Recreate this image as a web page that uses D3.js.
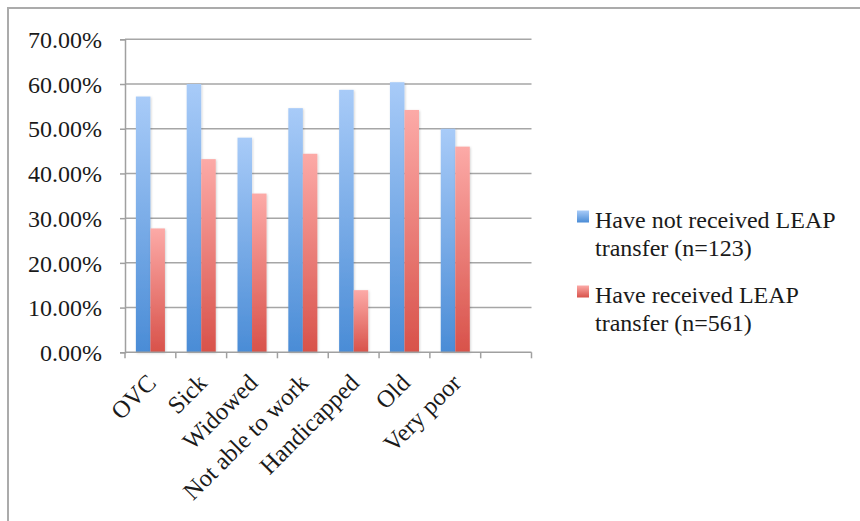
<!DOCTYPE html>
<html>
<head>
<meta charset="utf-8">
<script src="https://cdn.jsdelivr.net/npm/d3@7/dist/d3.min.js"></script>
<style>
  html, body { margin: 0; padding: 0; background: #fff; }
  svg { display: block; }
  text { font-family: "Liberation Serif", "DejaVu Serif", serif; fill: #1a1a1a; }
</style>
</head>
<body>
<svg id="chart" width="860" height="521"></svg>
<script>
// Category slots (the last slot is left empty, as in the original sheet)
const categories = ["OVC", "Sick", "Widowed", "Not able to work", "Handicapped", "Old", "Very poor", ""];
// Share of households per group, in percent
const notReceived = [57.2, 60.0, 48.0, 54.6, 58.7, 60.4, 50.0];
const received    = [27.7, 43.2, 35.5, 44.4, 13.9, 54.2, 46.0];
const legendLines = [["Have not received LEAP", "transfer (n=123)"], ["Have received LEAP", "transfer (n=561)"]];
const yTicks = [0, 10, 20, 30, 40, 50, 60, 70];

const svg = d3.select("#chart");
const defs = svg.append("defs");

// Vertical gradients: light at the top, saturated at the base
const grads = [
  { id: "gBlue", top: "#a8cbf8", bottom: "#4a8cd6" },
  { id: "gRed",  top: "#fcaaa7", bottom: "#d8524a" }
];
grads.forEach(g => {
  const lg = defs.append("linearGradient").attr("id", g.id)
    .attr("x1", 0).attr("y1", 0).attr("x2", 0).attr("y2", 1);
  lg.append("stop").attr("offset", "0%").attr("stop-color", g.top);
  lg.append("stop").attr("offset", "100%").attr("stop-color", g.bottom);
});
const shadow = defs.append("filter").attr("id", "soft").attr("x", "-30%").attr("y", "-10%").attr("width", "160%").attr("height", "120%");
shadow.append("feDropShadow").attr("dx", 0.8).attr("dy", 0.8).attr("stdDeviation", 0.9)
  .attr("flood-color", "#000").attr("flood-opacity", 0.18);

// Frame (only top and left edges fall inside the view)
svg.append("rect").attr("x", 8).attr("y", 8).attr("width", 900).attr("height", 600)
  .attr("fill", "none").attr("stroke", "#ababab").attr("stroke-width", 2);

const plot = { left: 125, right: 531.5, top: 39.3, bottom: 352.3 };

const x = d3.scaleBand().domain(categories.map((c, i) => i))
  .range([plot.left, plot.right]).paddingInner(0).paddingOuter(0);
const y = d3.scaleLinear().domain([0, 70]).range([plot.bottom, plot.top]);

// Horizontal gridlines
svg.append("g").selectAll("line").data(yTicks.slice(1)).join("line")
  .attr("x1", plot.left).attr("x2", plot.right)
  .attr("y1", d => y(d)).attr("y2", d => y(d))
  .attr("stroke", "#a6a6a6").attr("stroke-width", 1.5);

// Y axis
const yAxis = d3.axisLeft(y).tickValues(yTicks).tickSize(5).tickPadding(18)
  .tickFormat(d => d.toFixed(2) + "%");
const yg = svg.append("g").attr("transform", `translate(${plot.left},0)`).call(yAxis);
yg.select(".domain").attr("stroke", "#a0a0a0").attr("stroke-width", 1.5);
yg.selectAll(".tick line").attr("stroke", "#a0a0a0").attr("stroke-width", 1.5);
yg.selectAll(".tick text").attr("font-size", 24).attr("fill", "#1a1a1a")
  .attr("font-family", "Liberation Serif, serif").attr("dy", "0.34em");

// Bars: two per category, 75% gap width around each pair
const series = [notReceived, received];
const fills = ["url(#gBlue)", "url(#gRed)"];
const barW = x.bandwidth() / 1.75 / 2;
const offset = (x.bandwidth() - barW * 2) / 2;
series.forEach((vals, s) => {
  svg.append("g").attr("filter", "url(#soft)").selectAll("rect").data(vals).join("rect")
    .attr("x", (d, i) => x(i) + offset + s * barW)
    .attr("y", d => y(d))
    .attr("width", barW)
    .attr("height", d => y(0) - y(d))
    .attr("fill", fills[s]);
});

// X axis with ticks between categories
const xg = svg.append("g");
xg.append("line").attr("x1", plot.left).attr("x2", plot.right)
  .attr("y1", plot.bottom).attr("y2", plot.bottom)
  .attr("stroke", "#a0a0a0").attr("stroke-width", 1.5);
const edges = categories.map((c, i) => x(i)).concat([plot.right]);
xg.selectAll("line.tk").data(edges).join("line").attr("class", "tk")
  .attr("x1", d => d).attr("x2", d => d)
  .attr("y1", plot.bottom).attr("y2", plot.bottom + 6)
  .attr("stroke", "#a0a0a0").attr("stroke-width", 1.5);
xg.selectAll("text").data(categories.filter(c => c)).join("text")
  .attr("transform", (d, i) => `translate(${x(i) + x.bandwidth() / 2 - 5},${plot.bottom + 20}) rotate(-45)`)
  .attr("text-anchor", "end")
  .attr("dy", "0.7em")
  .attr("font-size", 24.5)
  .text(d => d);

// Legend
const legend = svg.append("g");
const legendY = [210.5, 285.5];
legendLines.forEach((lines, s) => {
  const g = legend.append("g");
  g.append("rect").attr("x", 577).attr("y", legendY[s]).attr("width", 12).attr("height", 12)
    .attr("fill", fills[s]);
  lines.forEach((ln, k) => {
    g.append("text").attr("x", 595).attr("y", legendY[s] + 17 + k * 28)
      .attr("font-size", 24).text(ln);
  });
});
</script>
</body>
</html>
